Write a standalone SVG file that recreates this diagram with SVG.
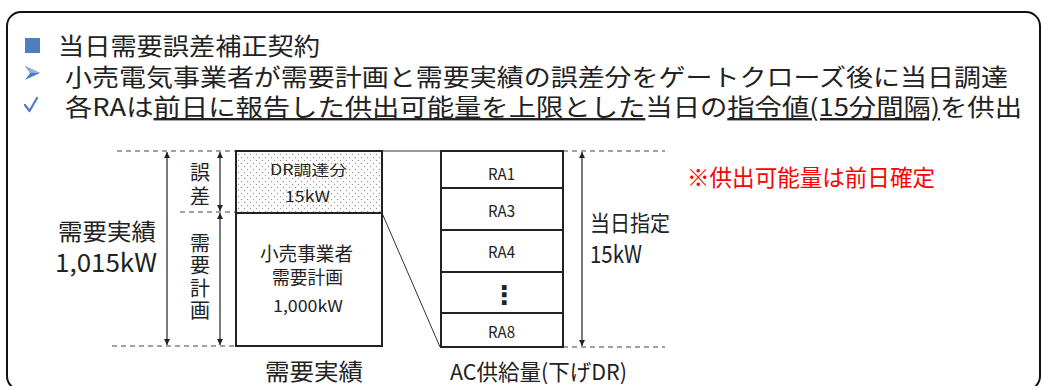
<svg xmlns="http://www.w3.org/2000/svg" width="1042" height="386" viewBox="0 0 1042 386">
<style>
.t{font-family:"Noto Sans CJK JP","Noto Sans",sans-serif;fill:#222}
.v{font-family:"Noto Sans CJK JP",sans-serif;fill:#222;writing-mode:vertical-rl;font-size:20px}
.box{stroke:#222;stroke-width:2}
.dash{stroke:#444;stroke-width:1.2;stroke-dasharray:5 4;fill:none}
.arr{stroke:#222;stroke-width:1.2;fill:none;marker-start:url(#ah);marker-end:url(#ah)}
.thin{stroke:#333;stroke-width:1;fill:none}
.blue{fill:#4F7EC0}
</style>
<defs>
<marker id="ah" viewBox="0 0 10 10" refX="10" refY="5" markerWidth="6" markerHeight="8" markerUnits="userSpaceOnUse" orient="auto-start-reverse">
<path d="M0,0 L10,5 L0,10 z" fill="#222"/>
</marker>
<pattern id="dots" width="6" height="6" patternUnits="userSpaceOnUse">
<rect width="6" height="6" fill="#fff"/>
<circle cx="1.5" cy="1.5" r="0.7" fill="#999"/>
<circle cx="4.5" cy="4.5" r="0.7" fill="#999"/>
</pattern>
</defs>
<rect x="0" y="0" width="1042" height="386" fill="#fff"/>
<rect id="frame" x="7" y="12" width="1033" height="378" rx="14" fill="#fff" stroke="#111" stroke-width="2"/>

<g id="header">
<rect class="blue" x="25" y="38" width="15" height="15"/>
<text class="t" x="58" y="55" font-size="24" textLength="262" lengthAdjust="spacingAndGlyphs">当日需要誤差補正契約</text>
<polygon points="25,66 40,73 25,80 30,73" fill="#4F7EC0"/>
<polygon points="25,66 40,73 30,73" fill="#8FB0DC"/>
<text class="t" x="65" y="86" font-size="24" textLength="943" lengthAdjust="spacingAndGlyphs">小売電気事業者が需要計画と需要実績の誤差分をゲートクローズ後に当日調達</text>
<path d="M25,105 L29.5,111 L37,98" fill="none" stroke="#4F7EC0" stroke-width="2.2" stroke-linejoin="round" stroke-linecap="round"/>
<text class="t" x="65" y="116" font-size="24" textLength="957" lengthAdjust="spacingAndGlyphs">各RAは<tspan text-decoration="underline">前日に報告した供出可能量を上限とした</tspan>当日の<tspan text-decoration="underline">指令値(15分間隔)</tspan>を供出</text>
</g>

<g id="guides">
<line class="dash" x1="117" y1="151" x2="236" y2="151"/>
<line class="dash" x1="180" y1="212" x2="236" y2="212"/>
<line class="dash" x1="112" y1="346" x2="236" y2="346"/>
<line class="dash" x1="563" y1="151" x2="665" y2="151"/>
<line class="dash" x1="563" y1="347" x2="665" y2="347"/>
</g>

<g id="connectors">
<line class="arr" x1="167" y1="152" x2="167" y2="345"/>
<line class="arr" x1="220" y1="152" x2="220" y2="211"/>
<line class="arr" x1="220" y1="213" x2="220" y2="345"/>
<line class="arr" x1="582" y1="152" x2="582" y2="346"/>
<line class="thin" x1="382" y1="151" x2="441" y2="151"/>
<line class="thin" x1="382" y1="213" x2="440" y2="347"/>
</g>

<g id="label-actual-left">
<text class="t" x="58" y="240" font-size="23" textLength="98" lengthAdjust="spacingAndGlyphs">需要実績</text>
<text class="t" x="55" y="272" font-size="25" textLength="102" lengthAdjust="spacingAndGlyphs">1,015kW</text>
</g>

<g id="label-error">
<text class="v" x="200" y="162" letter-spacing="4">誤差</text>
</g>
<g id="label-plan">
<text class="v" x="200" y="233" letter-spacing="2.5">需要計画</text>
</g>

<g id="box-dr">
<rect class="box" x="236" y="151" width="146" height="62" fill="url(#dots)"/>
<text class="t" x="270" y="175" font-size="14" textLength="77" lengthAdjust="spacingAndGlyphs">DR調達分</text>
<text class="t" x="285" y="202" font-size="15" textLength="45" lengthAdjust="spacingAndGlyphs">15kW</text>
</g>

<g id="box-plan">
<rect class="box" x="236" y="213" width="146" height="133" fill="#fff"/>
<text class="t" x="260" y="261" font-size="19" textLength="93" lengthAdjust="spacingAndGlyphs">小売事業者</text>
<text class="t" x="272" y="284" font-size="18" textLength="71" lengthAdjust="spacingAndGlyphs">需要計画</text>
<text class="t" x="273" y="312" font-size="16" textLength="70" lengthAdjust="spacingAndGlyphs">1,000kW</text>
</g>

<g id="label-actual-bottom">
<text class="t" x="265" y="380" font-size="23" textLength="98" lengthAdjust="spacingAndGlyphs">需要実績</text>
</g>

<g id="ra-stack">
<g id="ra1"><rect class="box" x="441" y="151" width="122" height="37" fill="#fff"/><text class="t" x="488" y="180" font-size="16" textLength="27" lengthAdjust="spacingAndGlyphs">RA1</text></g>
<g id="ra3"><rect class="box" x="441" y="188" width="122" height="42" fill="#fff"/><text class="t" x="488" y="217" font-size="16" textLength="27" lengthAdjust="spacingAndGlyphs">RA3</text></g>
<g id="ra4"><rect class="box" x="441" y="230" width="122" height="42" fill="#fff"/><text class="t" x="488" y="258" font-size="16" textLength="27" lengthAdjust="spacingAndGlyphs">RA4</text></g>
<g id="ra-more"><rect class="box" x="441" y="272" width="122" height="41" fill="#fff"/><text x="504" y="304" font-family="DejaVu Sans,sans-serif" font-weight="bold" font-size="26" text-anchor="middle" fill="#222">⋮</text></g>
<g id="ra8"><rect class="box" x="441" y="313" width="122" height="34" fill="#fff"/><text class="t" x="488" y="338" font-size="16" textLength="27" lengthAdjust="spacingAndGlyphs">RA8</text></g>
</g>

<g id="label-today">
<text class="t" x="590" y="231" font-size="22" textLength="80" lengthAdjust="spacingAndGlyphs">当日指定</text>
<text class="t" x="590" y="263" font-size="24" textLength="52" lengthAdjust="spacingAndGlyphs">15kW</text>
</g>

<g id="label-ac">
<text class="t" x="450" y="380" font-size="22" textLength="177" lengthAdjust="spacingAndGlyphs">AC供給量(下げDR)</text>
</g>

<g id="note">
<text x="687" y="186" font-family="Noto Sans CJK JP,sans-serif" font-size="23" fill="#FF0000" textLength="248" lengthAdjust="spacingAndGlyphs">※供出可能量は前日確定</text>
</g>
</svg>
